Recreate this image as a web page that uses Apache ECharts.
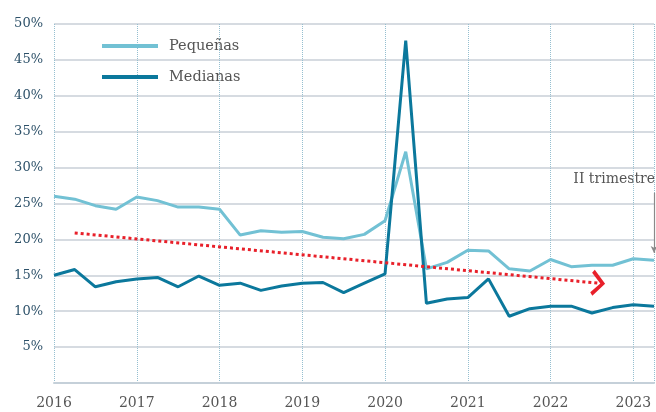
<!DOCTYPE html>
<html>
<head>
<meta charset="utf-8">
<script src="https://cdn.jsdelivr.net/npm/echarts@6/dist/echarts.min.js"></script>
<style>
    html, body { margin: 0; padding: 0; background: #fff; }
    #chart { width: 656px; height: 412px; }
</style>
</head>
<body>
<div id="chart"></div>
<script>
// trimestres 2016T1 .. 2023T2
var quarters = [];
var years = ['2016', '2017', '2018', '2019', '2020', '2021', '2022', '2023'];
years.forEach(function (y) {
    ['T1', 'T2', 'T3', 'T4'].forEach(function (q) {
        quarters.push(y + ' ' + q);
    });
});
quarters = quarters.slice(0, 30);

var pequenas = [26.0, 25.6, 24.7, 24.2, 25.9, 25.4, 24.5, 24.5,
                24.2, 20.6, 21.2, 21.0, 21.1, 20.3, 20.1, 20.7,
                22.6, 32.2, 15.9, 16.8, 18.5, 18.4, 15.9, 15.6,
                17.2, 16.2, 16.4, 16.4, 17.3, 17.1];
var medianas = [15.0, 15.8, 13.4, 14.1, 14.5, 14.7, 13.4, 14.9,
                13.6, 13.9, 12.9, 13.5, 13.9, 14.0, 12.6, 13.9,
                15.2, 47.7, 11.1, 11.7, 11.9, 14.5, 9.3, 10.35,
                10.7, 10.7, 9.75, 10.5, 10.9, 10.7];

// tendencia (indice de trimestre, %)
var trendStart = [1, 20.9];
var trendEnd = [26.3, 13.9];
// flecha "II trimestre"
var noteStart = [29, 26.5];
var noteEnd = [29, 18.1];

var serif = 'DejaVu Serif';

var chart = echarts.init(document.getElementById('chart'));

var options = {
    animation: false,
    grid: {
        left: 54,
        right: 2,
        top: 24,
        bottom: 29
    },
    legend: {
        orient: 'vertical',
        left: 97,
        top: 33,
        itemWidth: 56,
        itemHeight: 4,
        itemGap: 15,
        icon: 'rect',
        selectedMode: false,
        textStyle: {
            fontFamily: serif,
            fontSize: 14.5,
            color: '#555',
            lineHeight: 16,
            padding: [0, 0, 0, 6]
        },
        data: ['Pequeñas', 'Medianas']
    },
    xAxis: [
        {
            type: 'category',
            data: quarters,
            boundaryGap: false,
            axisLine: {
                show: true,
                lineStyle: { color: '#c5d0d9', width: 2 }
            },
            axisTick: { show: false },
            axisLabel: {
                interval: 3,
                margin: 13,
                fontFamily: serif,
                fontSize: 14,
                color: '#555',
                formatter: function (v) {
                    return v.slice(0, 4);
                }
            },
            splitLine: {
                show: true,
                interval: function (index) {
                    return index % 4 === 0 || index === 29;
                },
                lineStyle: {
                    color: '#95bfd0',
                    type: 'dotted',
                    width: 1
                }
            }
        },
        {
            type: 'value',
            min: 0,
            max: 29,
            show: false
        }
    ],
    yAxis: {
        type: 'value',
        min: 0,
        max: 50,
        interval: 5,
        axisLine: { show: false },
        axisTick: { show: false },
        axisLabel: {
            margin: 11,
            fontFamily: serif,
            fontSize: 13,
            color: '#2d5169',
            formatter: function (v) {
                return v === 0 ? '' : v + '%';
            }
        },
        splitLine: {
            lineStyle: {
                color: '#d6dbe1',
                width: 2
            }
        }
    },
    graphic: [
        {
            type: 'text',
            style: {
                text: 'II trimestre',
                x: 655,
                y: 179,
                textAlign: 'right',
                textVerticalAlign: 'middle',
                fontFamily: serif,
                fontSize: 14,
                fill: '#555'
            }
        }
    ],
    series: [
        {
            name: 'Pequeñas',
            type: 'line',
            data: pequenas,
            symbol: 'none',
            itemStyle: { color: '#72c1d4' },
            lineStyle: { color: '#72c1d4', width: 3 }
        },
        {
            name: 'Medianas',
            type: 'line',
            data: medianas,
            symbol: 'none',
            itemStyle: { color: '#0b789c' },
            lineStyle: { color: '#0b789c', width: 3 }
        },
        {
            name: 'tendencia',
            type: 'line',
            xAxisIndex: 1,
            data: [],
            silent: true,
            markLine: {
                silent: true,
                animation: false,
                symbol: ['none', 'path://M0,12 L12,0 L24,12 L21,14.5 L12,5 L3,14.5 Z'],
                symbolSize: [26, 14],
                label: { show: false },
                lineStyle: {
                    color: '#e8202a',
                    type: [3, 3],
                    width: 3
                },
                emphasis: { disabled: true },
                data: [
                    [{ coord: trendStart }, { coord: trendEnd }]
                ]
            }
        },
        {
            name: 'nota',
            type: 'line',
            xAxisIndex: 1,
            data: [],
            silent: true,
            markLine: {
                silent: true,
                animation: false,
                symbol: ['none', 'arrow'],
                symbolSize: [5, 7],
                label: { show: false },
                lineStyle: {
                    color: '#8a8a8a',
                    type: 'solid',
                    width: 1.2
                },
                emphasis: { disabled: true },
                data: [
                    [{ coord: noteStart }, { coord: noteEnd }]
                ]
            }
        }
    ]
};

chart.setOption(options);
</script>
</body>
</html>
